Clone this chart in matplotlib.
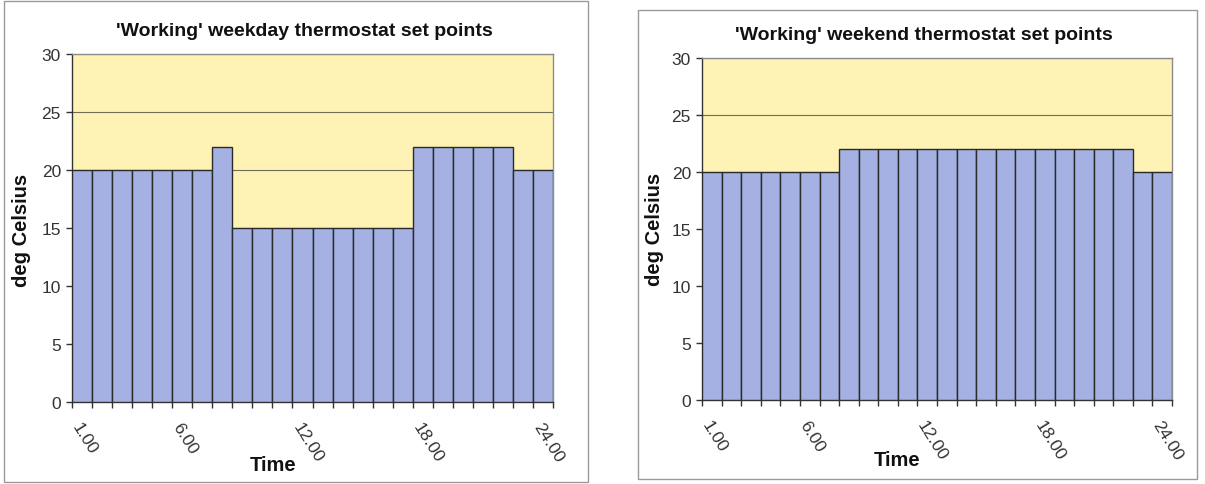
import matplotlib.pyplot as plt
from matplotlib.patches import Rectangle
from matplotlib.ticker import FixedLocator
from matplotlib.transforms import ScaledTranslation

plt.rcParams['font.family'] = ['Liberation Sans', 'DejaVu Sans']

# hourly set points, deg C
hours = [1, 2, 3, 4, 5, 6, 7, 8, 9, 10, 11, 12,
         13, 14, 15, 16, 17, 18, 19, 20, 21, 22, 23, 24]
weekday = [20, 20, 20, 20, 20, 20, 20, 22, 15, 15, 15, 15,
           15, 15, 15, 15, 15, 22, 22, 22, 22, 22, 20, 20]
weekend = [20, 20, 20, 20, 20, 20, 20, 22, 22, 22, 22, 22,
           22, 22, 22, 22, 22, 22, 22, 22, 22, 22, 20, 20]
tick_hours = [1, 6, 12, 18, 24]
tick_labels = ['1.00', '6.00', '12.00', '18.00', '24.00']

BAR = '#a4b1e2'
PLOTBG = '#fef3b4'
INK = '#333333'

fig = plt.figure(figsize=(12.05, 4.85), dpi=100)
W, H = 1205, 485


def box(px0, py0, px1, py1):
    # chart frame, given in pixels from the top left
    fig.patches.append(Rectangle((px0 / W, 1 - py1 / H), (px1 - px0) / W, (py1 - py0) / H,
                                 transform=fig.transFigure, fill=False,
                                 edgecolor='#9a9a9a', lw=1.0))


def chart(rect, values, title, title_xy, ylab_xy, xlab_xy):
    ax = fig.add_axes(rect)
    ax.set_facecolor(PLOTBG)
    ax.bar(hours, values, width=1.0, color=BAR, edgecolor='#2a2a2a', lw=1.0, zorder=3)
    ax.set_xlim(0.5, 24.5)
    ax.set_ylim(0, 30)
    ax.set_yticks([0, 5, 10, 15, 20, 25, 30])
    ax.yaxis.grid(True, color='#6e6e55', lw=0.8, zorder=1)
    ax.set_axisbelow(True)

    ax.set_xticks(tick_hours)
    ax.set_xticklabels(tick_labels, rotation=-58, ha='left', va='top',
                       rotation_mode='anchor', fontsize=12.5, color=INK)
    shift = ScaledTranslation(4 / 100, 0, fig.dpi_scale_trans)
    for lab in ax.get_xticklabels():
        lab.set_transform(lab.get_transform() + shift)
    ax.tick_params(axis='x', which='major', length=0, pad=13)
    ax.xaxis.set_minor_locator(FixedLocator([h - 0.5 for h in hours] + [24.5]))
    ax.tick_params(axis='x', which='minor', direction='out', length=4, width=1, color=INK)
    ax.tick_params(axis='y', direction='out', length=4, width=1, color=INK,
                   labelsize=12.5, labelcolor=INK, pad=4)

    for side in ('top', 'right'):
        ax.spines[side].set_color('#8c8c8c')
        ax.spines[side].set_linewidth(1.0)
    for side in ('left', 'bottom'):
        ax.spines[side].set_color(INK)
        ax.spines[side].set_linewidth(1.0)

    fig.text(title_xy[0] / W, 1 - title_xy[1] / H, title, ha='center', va='center',
             fontsize=14, fontweight='bold', color='#111111')
    fig.text(ylab_xy[0] / W, 1 - ylab_xy[1] / H, 'deg Celsius', ha='center', va='center',
             rotation=90, fontsize=14.5, fontweight='bold', color='#111111')
    fig.text(xlab_xy[0] / W, 1 - xlab_xy[1] / H, 'Time', ha='center', va='center',
             fontsize=14.5, fontweight='bold', color='#111111')
    return ax


box(4, 2, 588, 483)
box(638, 11, 1197, 480)

chart([72 / W, 1 - 403 / H, (553 - 72) / W, (403 - 55) / H], weekday,
      "'Working' weekday thermostat set points", (304, 31), (22, 230), (273, 466))
chart([702 / W, 1 - 401 / H, (1172 - 702) / W, (401 - 59) / H], weekend,
      "'Working' weekend thermostat set points", (924, 36), (655, 229), (897, 461))

fig.savefig('out.png', dpi=100, facecolor='white')
